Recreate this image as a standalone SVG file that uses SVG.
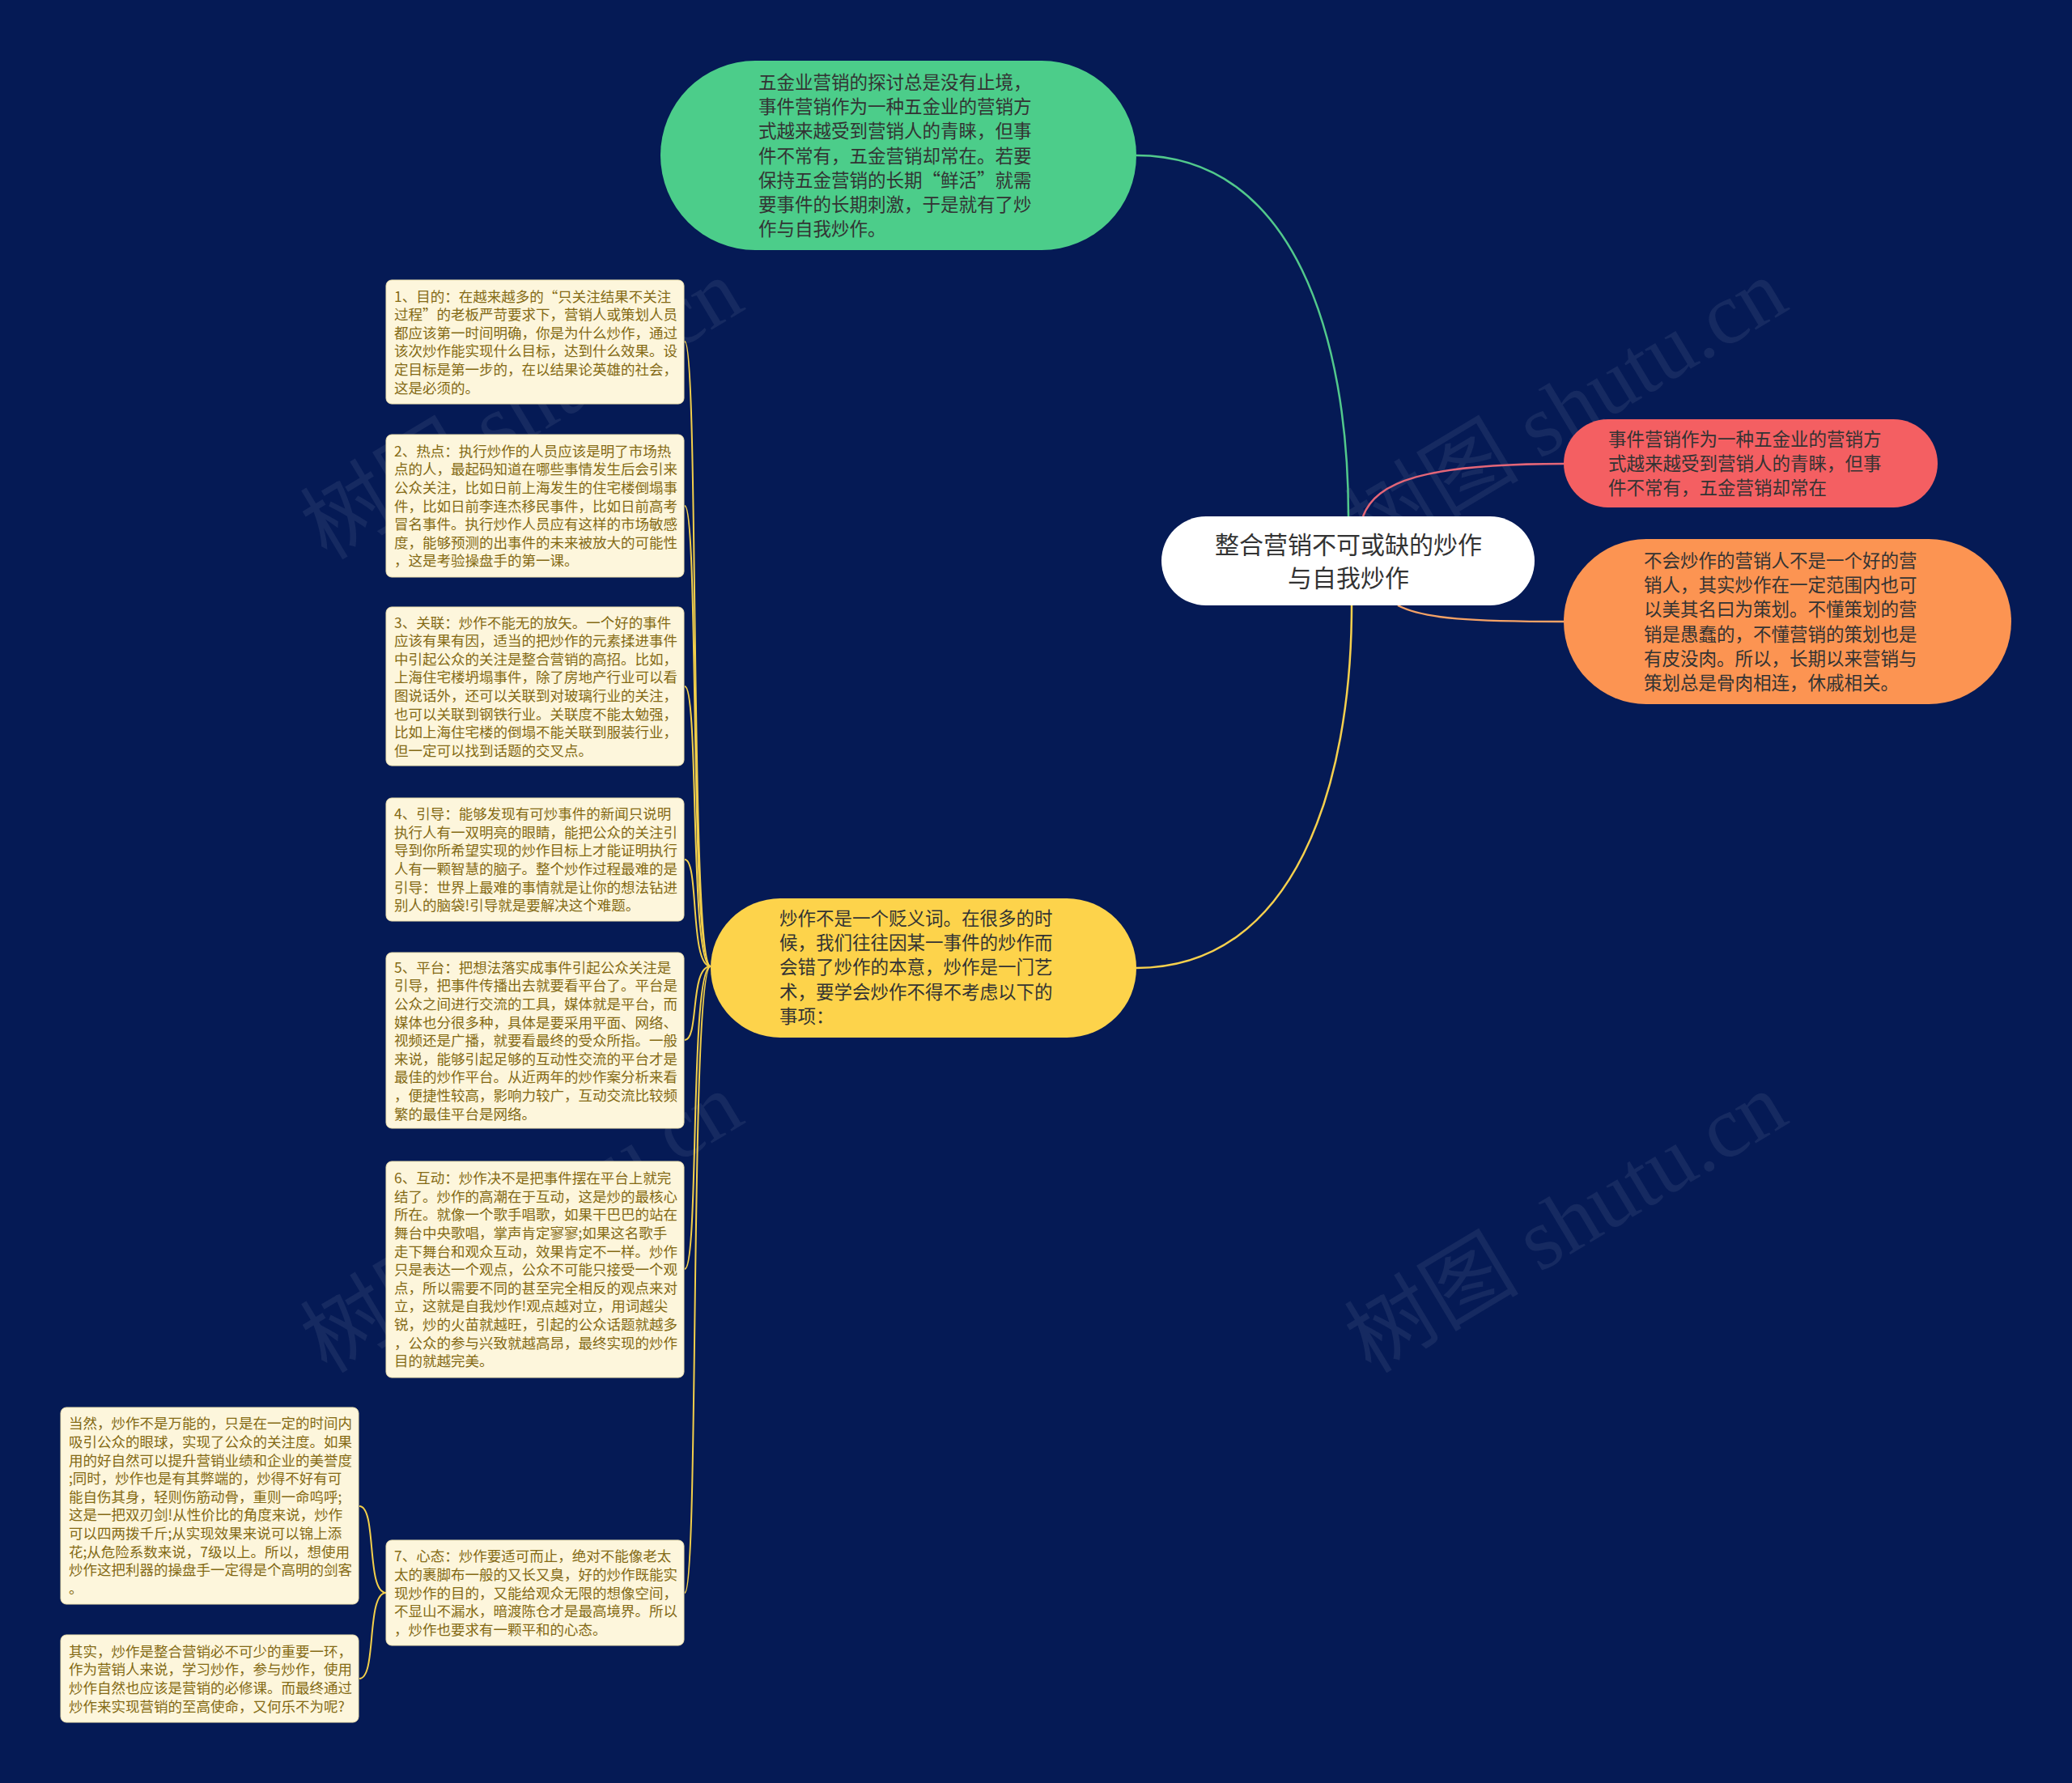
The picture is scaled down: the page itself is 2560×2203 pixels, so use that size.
<svg xmlns="http://www.w3.org/2000/svg" width="2560" height="2203" viewBox="0 0 2560 2203">
<defs>
<style>
.bg{fill:#051a55}
.wm{font-family:"Liberation Serif","Noto Sans CJK SC",serif;font-size:108px;fill:#ffffff;fill-opacity:0.07}
.nt{font-family:"Noto Sans CJK SC","Noto Sans",sans-serif;font-size:22.5px;fill:#333333}
.ct{font-family:"Noto Sans CJK SC","Noto Sans",sans-serif;font-size:30px;fill:#333333;text-anchor:middle}
.bt{font-family:"Noto Sans CJK SC","Noto Sans",sans-serif;font-size:17.5px;fill:#846a14}
.box{fill:#fdf6dc;stroke:#efe2b0;stroke-width:1}
.ln{fill:none;stroke-width:2.5}
.yl{fill:none;stroke:#f3cf4a;stroke-width:2}
</style>
</defs>
<rect class="bg" x="0" y="0" width="2560" height="2203"/>

<g id="watermarks">
<text class="wm" x="645" y="542" text-anchor="middle" transform="rotate(-31 645 506)">树图 shutu.cn</text>
<text class="wm" x="1935" y="542" text-anchor="middle" transform="rotate(-31 1935 506)">树图 shutu.cn</text>
<text class="wm" x="645" y="1547" text-anchor="middle" transform="rotate(-31 645 1511)">树图 shutu.cn</text>
<text class="wm" x="1935" y="1547" text-anchor="middle" transform="rotate(-31 1935 1511)">树图 shutu.cn</text>
</g>

<g id="connectors">
<path class="ln" stroke="#52c98c" d="M1404,192 C1600,192 1666,420 1666,638"/>
<path class="ln" stroke="#e46678" d="M1684,638 C1700,595 1760,573 1932,573"/>
<path class="ln" stroke="#f5a266" d="M1727,748 C1760,765 1820,768 1932,768"/>
<path class="ln" stroke="#f6d04d" d="M1404,1196 C1600,1196 1670,970 1670,748"/>
<path class="yl" d="M878,1194 C852,1194 864,422 846,422"/>
<path class="yl" d="M878,1194 C852,1194 864,625 846,625"/>
<path class="yl" d="M878,1194 C852,1194 864,848 846,848"/>
<path class="yl" d="M878,1194 C852,1194 864,1062 846,1062"/>
<path class="yl" d="M878,1194 C852,1194 864,1285 846,1285"/>
<path class="yl" d="M878,1194 C852,1194 864,1568 846,1568"/>
<path class="yl" d="M878,1194 C852,1194 864,1968 846,1968"/>
<path class="yl" d="M477,1968 C452,1968 466,1861 444,1861"/>
<path class="yl" d="M477,1968 C452,1968 466,2074 444,2074"/>
</g>

<g id="node-center">
<rect x="1435" y="638" width="461" height="110" rx="55" fill="#ffffff"/>
<text class="ct" x="1666" y="684">整合营销不可或缺的炒作</text>
<text class="ct" x="1666" y="725">与自我炒作</text>
</g>

<g id="node-green">
<rect x="816" y="75" width="588" height="234" rx="117" fill="#4ccd8a"/>
<text class="nt" x="937" y="110"><tspan x="937">五金业营销的探讨总是没有止境，</tspan><tspan x="937" dy="30.2">事件营销作为一种五金业的营销方</tspan><tspan x="937" dy="30.2">式越来越受到营销人的青睐，但事</tspan><tspan x="937" dy="30.2">件不常有，五金营销却常在。若要</tspan><tspan x="937" dy="30.2">保持五金营销的长期“鲜活”就需</tspan><tspan x="937" dy="30.2">要事件的长期刺激，于是就有了炒</tspan><tspan x="937" dy="30.2">作与自我炒作。</tspan></text>
</g>

<g id="node-red">
<rect x="1932" y="518" width="462" height="109" rx="54.5" fill="#f45f62"/>
<text class="nt" x="1987" y="551"><tspan x="1987">事件营销作为一种五金业的营销方</tspan><tspan x="1987" dy="30.2">式越来越受到营销人的青睐，但事</tspan><tspan x="1987" dy="30.2">件不常有，五金营销却常在</tspan></text>
</g>

<g id="node-orange">
<rect x="1932" y="666" width="553" height="204" rx="102" fill="#fc9452"/>
<text class="nt" x="2031" y="701"><tspan x="2031">不会炒作的营销人不是一个好的营</tspan><tspan x="2031" dy="30.2">销人，其实炒作在一定范围内也可</tspan><tspan x="2031" dy="30.2">以美其名曰为策划。不懂策划的营</tspan><tspan x="2031" dy="30.2">销是愚蠢的，不懂营销的策划也是</tspan><tspan x="2031" dy="30.2">有皮没肉。所以，长期以来营销与</tspan><tspan x="2031" dy="30.2">策划总是骨肉相连，休戚相关。</tspan></text>
</g>

<g id="node-yellow">
<rect x="878" y="1110" width="526" height="172" rx="86" fill="#fdd34b"/>
<text class="nt" x="963" y="1143"><tspan x="963">炒作不是一个贬义词。在很多的时</tspan><tspan x="963" dy="30.2">候，我们往往因某一事件的炒作而</tspan><tspan x="963" dy="30.2">会错了炒作的本意，炒作是一门艺</tspan><tspan x="963" dy="30.2">术，要学会炒作不得不考虑以下的</tspan><tspan x="963" dy="30.2">事项：</tspan></text>
</g>

<g id="box-1">
<rect class="box" x="477" y="346" width="368" height="153" rx="7"/>
<text class="bt" x="487" y="372.6"><tspan x="487">1、目的：在越来越多的“只关注结果不关注</tspan><tspan x="487" dy="22.6">过程”的老板严苛要求下，营销人或策划人员</tspan><tspan x="487" dy="22.6">都应该第一时间明确，你是为什么炒作，通过</tspan><tspan x="487" dy="22.6">该次炒作能实现什么目标，达到什么效果。设</tspan><tspan x="487" dy="22.6">定目标是第一步的，在以结果论英雄的社会，</tspan><tspan x="487" dy="22.6">这是必须的。</tspan></text>
</g>

<g id="box-2">
<rect class="box" x="477" y="537" width="368" height="176" rx="7"/>
<text class="bt" x="487" y="563.8"><tspan x="487">2、热点：执行炒作的人员应该是明了市场热</tspan><tspan x="487" dy="22.6">点的人，最起码知道在哪些事情发生后会引来</tspan><tspan x="487" dy="22.6">公众关注，比如日前上海发生的住宅楼倒塌事</tspan><tspan x="487" dy="22.6">件，比如日前李连杰移民事件，比如日前高考</tspan><tspan x="487" dy="22.6">冒名事件。执行炒作人员应有这样的市场敏感</tspan><tspan x="487" dy="22.6">度，能够预测的出事件的未来被放大的可能性</tspan><tspan x="487" dy="22.6">，这是考验操盘手的第一课。</tspan></text>
</g>

<g id="box-3">
<rect class="box" x="477" y="750" width="368" height="196" rx="7"/>
<text class="bt" x="487" y="775.5"><tspan x="487">3、关联：炒作不能无的放矢。一个好的事件</tspan><tspan x="487" dy="22.6">应该有果有因，适当的把炒作的元素揉进事件</tspan><tspan x="487" dy="22.6">中引起公众的关注是整合营销的高招。比如，</tspan><tspan x="487" dy="22.6">上海住宅楼坍塌事件，除了房地产行业可以看</tspan><tspan x="487" dy="22.6">图说话外，还可以关联到对玻璃行业的关注，</tspan><tspan x="487" dy="22.6">也可以关联到钢铁行业。关联度不能太勉强，</tspan><tspan x="487" dy="22.6">比如上海住宅楼的倒塌不能关联到服装行业，</tspan><tspan x="487" dy="22.6">但一定可以找到话题的交叉点。</tspan></text>
</g>

<g id="box-4">
<rect class="box" x="477" y="986" width="368" height="152" rx="7"/>
<text class="bt" x="487" y="1012.1"><tspan x="487">4、引导：能够发现有可炒事件的新闻只说明</tspan><tspan x="487" dy="22.6">执行人有一双明亮的眼睛，能把公众的关注引</tspan><tspan x="487" dy="22.6">导到你所希望实现的炒作目标上才能证明执行</tspan><tspan x="487" dy="22.6">人有一颗智慧的脑子。整个炒作过程最难的是</tspan><tspan x="487" dy="22.6">引导：世界上最难的事情就是让你的想法钻进</tspan><tspan x="487" dy="22.6">别人的脑袋!引导就是要解决这个难题。</tspan></text>
</g>

<g id="box-5">
<rect class="box" x="477" y="1177" width="368" height="217" rx="7"/>
<text class="bt" x="487" y="1201.7"><tspan x="487">5、平台：把想法落实成事件引起公众关注是</tspan><tspan x="487" dy="22.6">引导，把事件传播出去就要看平台了。平台是</tspan><tspan x="487" dy="22.6">公众之间进行交流的工具，媒体就是平台，而</tspan><tspan x="487" dy="22.6">媒体也分很多种，具体是要采用平面、网络、</tspan><tspan x="487" dy="22.6">视频还是广播，就要看最终的受众所指。一般</tspan><tspan x="487" dy="22.6">来说，能够引起足够的互动性交流的平台才是</tspan><tspan x="487" dy="22.6">最佳的炒作平台。从近两年的炒作案分析来看</tspan><tspan x="487" dy="22.6">，便捷性较高，影响力较广，互动交流比较频</tspan><tspan x="487" dy="22.6">繁的最佳平台是网络。</tspan></text>
</g>

<g id="box-6">
<rect class="box" x="477" y="1435" width="368" height="267" rx="7"/>
<text class="bt" x="487" y="1462.1"><tspan x="487">6、互动：炒作决不是把事件摆在平台上就完</tspan><tspan x="487" dy="22.6">结了。炒作的高潮在于互动，这是炒的最核心</tspan><tspan x="487" dy="22.6">所在。就像一个歌手唱歌，如果干巴巴的站在</tspan><tspan x="487" dy="22.6">舞台中央歌唱，掌声肯定寥寥;如果这名歌手</tspan><tspan x="487" dy="22.6">走下舞台和观众互动，效果肯定不一样。炒作</tspan><tspan x="487" dy="22.6">只是表达一个观点，公众不可能只接受一个观</tspan><tspan x="487" dy="22.6">点，所以需要不同的甚至完全相反的观点来对</tspan><tspan x="487" dy="22.6">立，这就是自我炒作!观点越对立，用词越尖</tspan><tspan x="487" dy="22.6">锐，炒的火苗就越旺，引起的公众话题就越多</tspan><tspan x="487" dy="22.6">，公众的参与兴致就越高昂，最终实现的炒作</tspan><tspan x="487" dy="22.6">目的就越完美。</tspan></text>
</g>

<g id="box-7">
<rect class="box" x="477" y="1903" width="368" height="130" rx="7"/>
<text class="bt" x="487" y="1929.4"><tspan x="487">7、心态：炒作要适可而止，绝对不能像老太</tspan><tspan x="487" dy="22.6">太的裹脚布一般的又长又臭，好的炒作既能实</tspan><tspan x="487" dy="22.6">现炒作的目的，又能给观众无限的想像空间，</tspan><tspan x="487" dy="22.6">不显山不漏水，暗渡陈仓才是最高境界。所以</tspan><tspan x="487" dy="22.6">，炒作也要求有一颗平和的心态。</tspan></text>
</g>

<g id="box-a">
<rect class="box" x="75" y="1739" width="368" height="243" rx="7"/>
<text class="bt" x="85" y="1765.4"><tspan x="85">当然，炒作不是万能的，只是在一定的时间内</tspan><tspan x="85" dy="22.6">吸引公众的眼球，实现了公众的关注度。如果</tspan><tspan x="85" dy="22.6">用的好自然可以提升营销业绩和企业的美誉度</tspan><tspan x="85" dy="22.6">;同时，炒作也是有其弊端的，炒得不好有可</tspan><tspan x="85" dy="22.6">能自伤其身，轻则伤筋动骨，重则一命呜呼;</tspan><tspan x="85" dy="22.6">这是一把双刃剑!从性价比的角度来说，炒作</tspan><tspan x="85" dy="22.6">可以四两拨千斤;从实现效果来说可以锦上添</tspan><tspan x="85" dy="22.6">花;从危险系数来说，7级以上。所以，想使用</tspan><tspan x="85" dy="22.6">炒作这把利器的操盘手一定得是个高明的剑客</tspan><tspan x="85" dy="22.6">。</tspan></text>
</g>

<g id="box-b">
<rect class="box" x="75" y="2020" width="368" height="108" rx="7"/>
<text class="bt" x="85" y="2046.7"><tspan x="85">其实，炒作是整合营销必不可少的重要一环，</tspan><tspan x="85" dy="22.6">作为营销人来说，学习炒作，参与炒作，使用</tspan><tspan x="85" dy="22.6">炒作自然也应该是营销的必修课。而最终通过</tspan><tspan x="85" dy="22.6">炒作来实现营销的至高使命，又何乐不为呢?</tspan></text>
</g>
</svg>
